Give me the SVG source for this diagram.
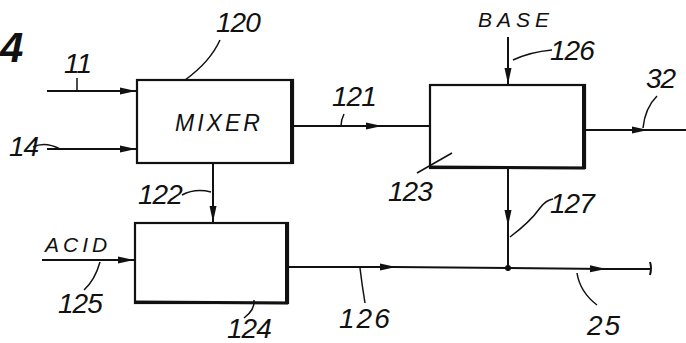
<svg xmlns="http://www.w3.org/2000/svg" width="686" height="343" viewBox="0 0 686 343">
<defs>
<style>
.ln{stroke:#111;stroke-width:2;fill:none}
.ld{stroke:#111;stroke-width:1.5;fill:none}
.bx{stroke:#111;stroke-width:2.2;fill:#fff}
.sh{stroke:#111;stroke-width:4;fill:none}
text{font-family:"Liberation Sans",Arial,sans-serif;font-style:italic;fill:#111}
.num{font-size:28px;letter-spacing:-1px}
.lab{font-size:21px;letter-spacing:4px}
</style>
<marker id="arr" markerWidth="17" markerHeight="9" refX="16" refY="4.5" orient="auto" markerUnits="userSpaceOnUse">
<path d="M0,1 L16,4.5 L0,8 Z" fill="#111"/>
</marker>
</defs>
<rect width="686" height="343" fill="#fff"/>
<text x="0" y="62" style="font-size:42px;font-weight:bold">4</text>
<g id="connectors">
<line class="ln" x1="47" y1="91" x2="136" y2="91" marker-end="url(#arr)"/>
<line class="ln" x1="47" y1="149" x2="136" y2="149" marker-end="url(#arr)"/>
<line class="ln" x1="293" y1="126" x2="382" y2="126" marker-end="url(#arr)"/>
<line class="ln" x1="380" y1="126" x2="430" y2="126"/>
<line class="ln" x1="508" y1="37" x2="508" y2="84" marker-end="url(#arr)"/>
<line class="ln" x1="585" y1="130" x2="648" y2="130" marker-end="url(#arr)"/>
<line class="ln" x1="646" y1="130" x2="686" y2="130"/>
<line class="ln" x1="213" y1="163" x2="213" y2="222" marker-end="url(#arr)"/>
<line class="ln" x1="42" y1="260" x2="134" y2="260" marker-end="url(#arr)"/>
<line class="ln" x1="288" y1="267" x2="396" y2="267" marker-end="url(#arr)"/>
<line class="ln" x1="394" y1="267" x2="508" y2="268"/>
<line class="ln" x1="508" y1="168" x2="508" y2="226" marker-end="url(#arr)"/>
<line class="ln" x1="508" y1="224" x2="508" y2="268"/>
<line class="ln" x1="508" y1="268" x2="606" y2="269" marker-end="url(#arr)"/>
<line class="ln" x1="604" y1="269" x2="650" y2="269"/>
<path class="ln" d="M650,262 Q652,268 650,275"/>
<circle cx="508" cy="268" r="3" fill="#111"/>
</g>
<g id="mixer">
<rect class="bx" x="137" y="80" width="156" height="83"/>
<line class="sh" x1="292" y1="80" x2="292" y2="164"/>
<text class="lab" x="175" y="131" style="font-size:23px;letter-spacing:3px">MIXER</text>
</g>
<g id="box123">
<rect class="bx" x="430" y="85" width="155" height="83"/>
<line class="sh" x1="584" y1="85" x2="584" y2="169"/>
<line class="ln" x1="430" y1="167" x2="585" y2="168" style="stroke-width:3"/>
</g>
<g id="box124">
<rect class="bx" x="135" y="223" width="153" height="80"/>
<line class="sh" x1="287" y1="223" x2="287" y2="304"/>
<line class="ln" x1="135" y1="302" x2="288" y2="303" style="stroke-width:3"/>
</g>
<g id="labels">
<text class="num" x="216" y="32">120</text>
<path class="ld" d="M185,80 Q210,62 220,40"/>
<text class="num" x="64" y="73">11</text>
<path class="ld" d="M77,78 L77,91"/>
<text class="num" x="9" y="156">14</text>
<path class="ld" d="M33,147 Q45,141 60,149"/>
<text class="num" x="332" y="106">121</text>
<path class="ld" d="M344,114 Q341,120 341,126"/>
<text class="lab" x="478" y="27" style="letter-spacing:5px">BASE</text>
<text class="num" x="550" y="60">126</text>
<path class="ld" d="M513,60 Q530,52 552,50"/>
<text class="num" x="646" y="88">32</text>
<path class="ld" d="M657,96 Q645,108 643,128"/>
<text class="num" x="388" y="201">123</text>
<path class="ld" d="M417,173 L452,153"/>
<text class="num" x="138" y="204">122</text>
<path class="ld" d="M182,195 Q195,188 211,192"/>
<text class="lab" x="45" y="252">ACID</text>
<text class="num" x="58" y="313">125</text>
<path class="ld" d="M100,262 Q95,280 84,290"/>
<text class="num" x="227" y="338">124</text>
<path class="ld" d="M244,318 Q255,310 254,300"/>
<text class="num" x="550" y="213">127</text>
<path class="ld" d="M510,237 Q530,222 540,208 Q546,200 553,199"/>
<text class="num" x="339" y="328" style="letter-spacing:2px">126</text>
<path class="ld" d="M360,268 Q362,285 365,303"/>
<text class="num" x="587" y="335" style="letter-spacing:2px">25</text>
<path class="ld" d="M577,273 Q580,292 597,305"/>
</g>
</svg>
